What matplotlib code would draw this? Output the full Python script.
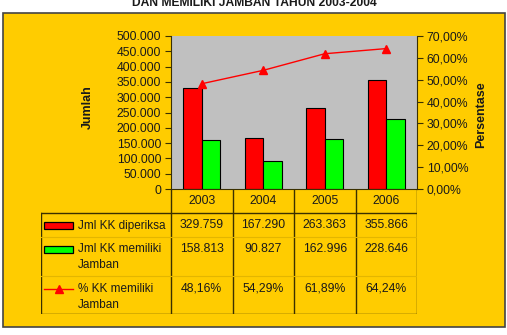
import numpy as np
import matplotlib.pyplot as plt
from matplotlib.patches import Rectangle
from matplotlib.ticker import FuncFormatter

plt.rcParams['font.family'] = ['Liberation Sans', 'DejaVu Sans']

years = ['2003', '2004', '2005', '2006']
jml_diperiksa = [329759, 167290, 263363, 355866]
jml_jamban = [158813, 90827, 162996, 228646]
pct_jamban = [48.16, 54.29, 61.89, 64.24]
series_names = [['Jml KK diperiksa'], ['Jml KK memiliki', 'Jamban'], ['% KK memiliki', 'Jamban']]

W, H = 507, 335
yellow = '#FFCC00'
dark = '#3a3000'
txt = '#1a1a1a'
fs = 8.8

def fx(px):
    return px / W

def fy(py):
    return 1 - py / H

fig = plt.figure(figsize=(W / 100, H / 100), dpi=100)
fig.patch.set_facecolor('white')

# yellow chart box, behind the axes
fig.patches.append(Rectangle((fx(3), fy(327)), fx(502), 314 / H, transform=fig.transFigure,
                             facecolor=yellow, edgecolor='#444444', linewidth=1.2, zorder=-5))

fig.text(0.502, fy(6), 'DAN MEMILIKI JAMBAN TAHUN 2003-2004', ha='center', va='baseline',
         fontsize=8.7, fontweight='bold', color=txt)

# main plot
ax = fig.add_axes([fx(171), fy(189), fx(246), 153 / H])
ax.set_facecolor('#C0C0C0')
x = np.arange(len(years))
bw = 0.3
ax.bar(x - bw / 2, jml_diperiksa, bw, color='#FF0000', edgecolor='black', linewidth=0.8, zorder=2)
ax.bar(x + bw / 2, jml_jamban, bw, color='#00FF00', edgecolor='black', linewidth=0.8, zorder=2)
ax.set_xlim(-0.5, 3.5)
ax.set_ylim(0, 500000)
ax.set_yticks(np.arange(0, 500001, 50000))
ax.yaxis.set_major_formatter(FuncFormatter(lambda v, p: f'{int(v):,}'.replace(',', '.')))
ax.set_xticks([])
for s in ['top', 'right']:
    ax.spines[s].set_visible(False)
for s in ['left', 'bottom']:
    ax.spines[s].set_color(dark)
ax.tick_params(axis='y', direction='out', length=4, color=dark, labelsize=fs, labelcolor=txt, pad=3)

ax2 = ax.twinx()
ax2.plot(x, pct_jamban, color='#FF0000', linewidth=1, marker='^', markersize=6, zorder=3)
ax2.set_ylim(0, 70)
ax2.set_yticks(np.arange(0, 71, 10))
ax2.yaxis.set_major_formatter(FuncFormatter(lambda v, p: f'{v:.2f}%'.replace('.', ',')))
for s in ['top', 'left', 'bottom']:
    ax2.spines[s].set_visible(False)
ax2.spines['right'].set_color(dark)
ax2.tick_params(axis='y', direction='out', length=4, color=dark, labelsize=fs, labelcolor=txt, pad=3)

fig.text(fx(88), fy(107), 'Jumlah', rotation=90, ha='center', va='center',
         fontsize=9, fontweight='bold', color=txt)
fig.text(fx(481), fy(115), 'Persentase', rotation=90, ha='center', va='center',
         fontsize=9, fontweight='bold', color=txt)

# data table below the plot
px_unit = 246 / 4
x_left = -0.5 - (171 - 41) / px_unit
tb = fig.add_axes([fx(41), fy(314), fx(417 - 41), 125 / H])
tb.set_xlim(x_left, 3.5)
tb.set_ylim(125, 0)
tb.axis('off')
rows = [0, 24, 48, 87, 125]

# header row (years)
for xi, yr in zip(x, years):
    tb.text(xi, 12, yr, ha='center', va='center', fontsize=fs, color=txt)
# grid lines
for xb in np.arange(-0.5, 3.6, 1):
    tb.plot([xb, xb], [0, 125], color=dark, linewidth=1)
tb.plot([x_left, x_left], [24, 125], color=dark, linewidth=1)
tb.plot([x_left, 3.5], [24, 24], color=dark, linewidth=1)
tb.plot([x_left, 3.5], [125, 125], color=dark, linewidth=1)
tb.plot([x_left, 3.5], [48, 48], color='#E3B600', linewidth=0.8)
tb.plot([x_left, 3.5], [87, 87], color='#E3B600', linewidth=0.8)

values = [
    [f'{v:,}'.replace(',', '.') for v in jml_diperiksa],
    [f'{v:,}'.replace(',', '.') for v in jml_jamban],
    [f'{v:.2f}%'.replace('.', ',') for v in pct_jamban],
]
key_x0 = x_left + 3 / px_unit
key_w = 29 / px_unit
label_x = x_left + 37 / px_unit
for r in range(3):
    top = rows[r + 1]
    yc = top + 12.5
    for k, line in enumerate(series_names[r]):
        tb.text(label_x, yc + 16 * k, line, ha='left', va='center', fontsize=8.5, color=txt)
    for xi, val in zip(x, values[r]):
        tb.text(xi, yc, val, ha='center', va='center', fontsize=fs, color=txt)
    if r < 2:
        col = '#FF0000' if r == 0 else '#00FF00'
        tb.add_patch(Rectangle((key_x0, yc - 3.5), key_w, 7, facecolor=col,
                               edgecolor='black', linewidth=0.9))
    else:
        tb.plot([key_x0, key_x0 + key_w], [yc, yc], color='#FF0000', linewidth=1)
        tb.plot([key_x0 + key_w / 2], [yc], marker='^', color='#FF0000', markersize=6)

fig.savefig('out.png', dpi=100)
